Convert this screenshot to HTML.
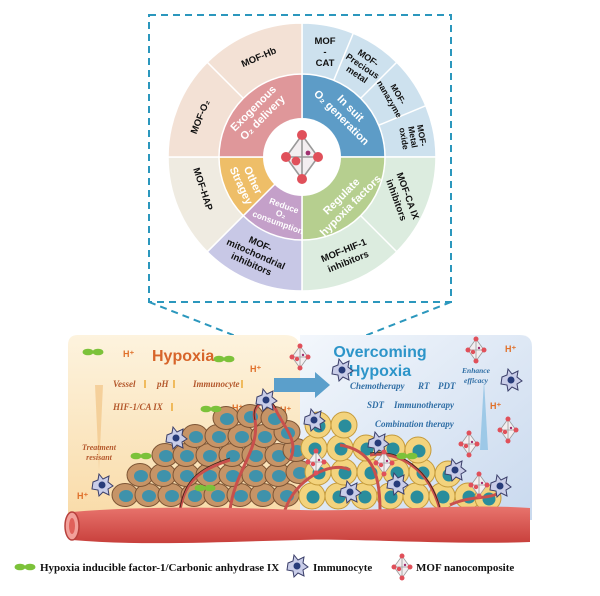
<!DOCTYPE html>
<html><head><meta charset="utf-8"><style>
body{margin:0;background:#fff}
svg{display:block}
.w{font-family:"Liberation Sans",sans-serif;font-weight:bold;fill:#fff;font-size:11px;text-anchor:middle}
.o{font-family:"Liberation Sans",sans-serif;font-weight:bold;fill:#111;font-size:9.5px;text-anchor:middle}
.it{font-family:"Liberation Serif",serif;font-style:italic;font-weight:bold;font-size:9px}
.lg{font-family:"Liberation Serif",serif;font-weight:bold;font-size:11px;fill:#111}
</style></head><body>
<svg width="600" height="596" viewBox="0 0 600 596" xmlns="http://www.w3.org/2000/svg">
<defs>
<linearGradient id="lw" x1="0" y1="0" x2="0" y2="1"><stop offset="0" stop-color="#fdf3de"/><stop offset="1" stop-color="#f9dba8"/></linearGradient>
<linearGradient id="rb" x1="0" y1="0" x2="1" y2="1"><stop offset="0" stop-color="#f3f7fc"/><stop offset="1" stop-color="#c9d9ee"/></linearGradient>
<linearGradient id="ves" x1="0" y1="0" x2="0" y2="1"><stop offset="0" stop-color="#e8746d"/><stop offset="1" stop-color="#c8403c"/></linearGradient>
<g id="cellB"><ellipse rx="13" ry="11.5" fill="#c69467" stroke="#7c5434" stroke-width="1"/><ellipse rx="7" ry="6" fill="#3f92ab" cx="1" cy="1"/></g>
<g id="cellY"><circle r="13" fill="#f3d37d" stroke="#c49a3b" stroke-width="1"/><circle r="6.5" fill="#2a8d9c" cx="1" cy="1"/></g>
<g id="imm"><path d="M-9,-3 L-4,-5 L-3,-11 L1,-6 L7,-9 L6,-3 L11,1 L6,4 L7,10 L1,7 L-3,11 L-4,5 L-10,4 Z" fill="#c9cde8" stroke="#3b3f6a" stroke-width="1"/><circle r="3.5" fill="#283c7a"/></g>
<g id="mof"><path d="M0,-11 L-8,0 L0,11 L8,0 Z M-8,0 L8,0 M0,-11 L0,11" stroke="#999" fill="#f3eef0" stroke-width="0.8"/><circle cy="-11" r="2.5" fill="#e0505a"/><circle cy="11" r="2.5" fill="#e0505a"/><circle cx="-8" r="2.5" fill="#e0505a"/><circle cx="8" r="2.5" fill="#e0505a"/><circle cx="-3" cy="2" r="2.2" fill="#e0505a"/><circle cx="3" cy="-2" r="1.2" fill="#a03070"/></g>
<g id="hif"><ellipse cx="-5" rx="5.5" ry="3.3" fill="#7cc23a"/><ellipse cx="5" rx="5.5" ry="3.3" fill="#7cc23a"/></g>
</defs>

<g stroke="#2b97bd" stroke-width="2" stroke-dasharray="7,5" fill="none">
<path d="M149,15 L451,15 L451,302 L149,302 Z"/>
<path d="M149,302 L284,355 M451,302 L316,355"/>
</g>

<g stroke="#fff" stroke-width="1.5">
<path d="M302,157 L302,23 A134,134 0 0 1 436,157 Z" fill="#cde1ee"/>
<path d="M302,157 L436,157 A134,134 0 0 1 302,291 Z" fill="#dcecdf"/>
<path d="M302,157 L302,291 A134,134 0 0 1 207.2,251.8 Z" fill="#c8c8e6"/>
<path d="M302,157 L207.2,251.8 A134,134 0 0 1 168,157 Z" fill="#efebe1"/>
<path d="M302,157 L168,157 A134,134 0 0 1 302,23 Z" fill="#f3e1d5"/>
<path d="M302,157 L353.3,33.2 M302,157 L396.8,62.2 M302,157 L425.8,105.7 M302,157 L396.8,251.8 M302,157 L207.2,62.2" fill="none"/>
<path d="M302,157 L302,74 A83,83 0 0 1 385,157 Z" fill="#5d9cc7"/>
<path d="M302,157 L385,157 A83,83 0 0 1 302,240 Z" fill="#b6cf8f"/>
<path d="M302,157 L302,240 A83,83 0 0 1 243.3,215.7 Z" fill="#c4a0c9"/>
<path d="M302,157 L243.3,215.7 A83,83 0 0 1 219,157 Z" fill="#eebe68"/>
<path d="M302,157 L219,157 A83,83 0 0 1 302,74 Z" fill="#df979a"/>
</g>
<circle cx="302" cy="157" r="39" fill="#fff"/>
<g transform="translate(302,157) scale(2)"><use href="#mof"/></g>

<text class="w" transform="translate(258,113) rotate(-45)"><tspan x="0" y="-3">Exogenous</tspan><tspan x="0" y="10">O₂ delivery</tspan></text>
<text class="w" transform="translate(346,113) rotate(45)"><tspan x="0" y="-3">In suit</tspan><tspan x="0" y="10">O₂ generation</tspan></text>
<text class="w" transform="translate(346,201) rotate(-45)"><tspan x="0" y="-3">Regulate</tspan><tspan x="0" y="10">hypoxia factors</tspan></text>
<text class="w" style="font-size:8.5px" transform="translate(281,214) rotate(20)"><tspan x="0" y="-6">Reduce</tspan><tspan x="0" y="3">O₂</tspan><tspan x="0" y="12">consumption</tspan></text>
<text class="w" transform="translate(247,183) rotate(65)"><tspan x="0" y="-3">Other</tspan><tspan x="0" y="10">Stragey</tspan></text>

<text class="o" transform="translate(260,60) rotate(-23)">MOF-Hb</text>
<text class="o" transform="translate(203,118) rotate(-68)">MOF-O₂</text>
<text class="o" transform="translate(325,40)"><tspan x="0" y="4">MOF</tspan><tspan x="0" y="15">-</tspan><tspan x="0" y="26">CAT</tspan></text>
<text class="o" style="font-size:9px" transform="translate(362,67) rotate(34)"><tspan x="0" y="-8">MOF-</tspan><tspan x="0" y="2">Precious</tspan><tspan x="0" y="12">metal</tspan></text>
<text class="o" style="font-size:8.5px" transform="translate(393,97) rotate(60)"><tspan x="0" y="-3">MOF-</tspan><tspan x="0" y="7">nanazyme</tspan></text>
<text class="o" style="font-size:8.5px" transform="translate(413,137) rotate(80)"><tspan x="0" y="-6">MOF-</tspan><tspan x="0" y="3">Metal</tspan><tspan x="0" y="12">oxide</tspan></text>
<text class="o" transform="translate(402,198) rotate(70)"><tspan x="0" y="-3">MOF-CA IX</tspan><tspan x="0" y="9">inhibitors</tspan></text>
<text class="o" transform="translate(346,256) rotate(-22)"><tspan x="0" y="-3">MOF-HIF-1</tspan><tspan x="0" y="9">inhibitors</tspan></text>
<text class="o" transform="translate(255,256) rotate(24)"><tspan x="0" y="-10">MOF-</tspan><tspan x="0" y="1">mitochondrial</tspan><tspan x="0" y="12">inhibitors</tspan></text>
<text class="o" transform="translate(200,190) rotate(72)">MOF-HAP</text>

<path d="M78,335 L285,335 Q300,335 300,350 L300,520 L68,520 L68,345 Q68,335 78,335 Z" fill="url(#lw)"/>
<path d="M300,335 L520,335 Q532,335 532,347 L532,520 L300,520 Z" fill="url(#rb)"/>
<path d="M95,385 L99,470 L103,385 Z" fill="#f3c98f" opacity="0.8"/>
<path d="M484,380 L480,450 L488,450 Z" fill="#8ec2e3" opacity="0.8"/>

<text x="152" y="361" font-family="Liberation Sans,sans-serif" font-weight="bold" font-size="16" fill="#d7652a">Hypoxia</text>
<text x="380" y="357" font-family="Liberation Sans,sans-serif" font-weight="bold" font-size="16" fill="#2d95c9" text-anchor="middle">Overcoming</text>
<text x="380" y="376" font-family="Liberation Sans,sans-serif" font-weight="bold" font-size="16" fill="#2d95c9" text-anchor="middle">Hypoxia</text>
<g class="it" fill="#b4582c">
<text x="113" y="387">Vessel</text><text x="157" y="387">pH</text><text x="193" y="387">Immunocyte</text>
<text x="113" y="410">HIF-1/CA IX</text>
<text x="99" y="450" text-anchor="middle" font-size="8">Treatment</text><text x="99" y="460" text-anchor="middle" font-size="8">resisant</text>
</g>
<g stroke="#e9a020" stroke-width="1.3"><path d="M145,388 L145,380 M174,380 L174,388 M242,380 L242,388 M172,411 L172,403"/></g>
<g font-family="Liberation Sans,sans-serif" font-weight="bold" font-size="9" fill="#e0702a">
<text x="123" y="357">H⁺</text><text x="250" y="372">H⁺</text><text x="232" y="411">H⁺</text><text x="280" y="413">H⁺</text><text x="77" y="499">H⁺</text>
<text x="505" y="352">H⁺</text><text x="490" y="409">H⁺</text></g>
<path d="M274,378 L315,378 L315,372 L330,385 L315,398 L315,392 L274,392 Z" fill="#5b9fcb"/>

<g>
<use href="#cellB" x="125" y="495"/><use href="#cellB" x="148" y="495"/><use href="#cellB" x="171" y="495"/><use href="#cellB" x="194" y="495"/><use href="#cellB" x="217" y="495"/><use href="#cellB" x="240" y="495"/><use href="#cellB" x="263" y="495"/><use href="#cellB" x="286" y="495"/>
<use href="#cellB" x="140" y="475"/><use href="#cellB" x="163" y="475"/><use href="#cellB" x="186" y="475"/><use href="#cellB" x="209" y="475"/><use href="#cellB" x="232" y="475"/><use href="#cellB" x="255" y="475"/><use href="#cellB" x="278" y="475"/><use href="#cellB" x="299" y="472"/>
<use href="#cellB" x="165" y="455"/><use href="#cellB" x="186" y="455"/><use href="#cellB" x="209" y="455"/><use href="#cellB" x="232" y="455"/><use href="#cellB" x="255" y="455"/><use href="#cellB" x="278" y="455"/><use href="#cellB" x="296" y="450"/>
<use href="#cellB" x="195" y="436"/><use href="#cellB" x="218" y="436"/><use href="#cellB" x="241" y="436"/><use href="#cellB" x="264" y="436"/><use href="#cellB" x="287" y="432"/>
<use href="#cellB" x="226" y="418"/><use href="#cellB" x="250" y="416"/><use href="#cellB" x="274" y="418"/>
<use href="#cellY" x="312" y="496"/><use href="#cellY" x="338" y="496"/><use href="#cellY" x="364" y="496"/><use href="#cellY" x="390" y="496"/><use href="#cellY" x="416" y="496"/><use href="#cellY" x="442" y="496"/><use href="#cellY" x="468" y="496"/><use href="#cellY" x="488" y="498"/>
<use href="#cellY" x="318" y="472"/><use href="#cellY" x="344" y="472"/><use href="#cellY" x="370" y="472"/><use href="#cellY" x="396" y="472"/><use href="#cellY" x="422" y="472"/><use href="#cellY" x="448" y="474"/>
<use href="#cellY" x="314" y="448"/><use href="#cellY" x="340" y="448"/><use href="#cellY" x="366" y="448"/><use href="#cellY" x="392" y="448"/><use href="#cellY" x="418" y="450"/>
<use href="#cellY" x="318" y="425"/><use href="#cellY" x="344" y="425"/>
</g>
<g fill="none" stroke="#c9504c" stroke-width="3">
<path d="M180,510 C185,480 200,470 230,460 M230,510 C235,470 260,450 255,420 C250,405 268,395 276,410 C282,425 300,440 290,460 M285,510 C295,480 330,460 350,470 M380,510 C380,470 370,450 340,445 M440,510 C430,470 400,450 370,455 M450,505 C470,495 490,500 500,492"/>
</g>
<g fill="none" stroke="#3a2418" stroke-width="0.8">
<path d="M180,508 C185,478 200,468 230,458 M255,420 C250,403 268,393 276,408 M370,453 C400,448 430,470 440,508"/>
</g>

<g class="it" fill="#2f6ea5">
<text x="350" y="389">Chemotherapy</text><text x="418" y="389">RT</text><text x="438" y="389">PDT</text>
<text x="367" y="408">SDT</text><text x="394" y="408">Immunotherapy</text>
<text x="375" y="427">Combination therapy</text>
<text x="476" y="373" text-anchor="middle" font-size="7.5">Enhance</text><text x="476" y="383" text-anchor="middle" font-size="7.5">efficacy</text>
</g>

<path d="M72,512 C150,505 250,508 300,510 C380,512 460,503 530,508 L530,542 C450,545 350,538 300,540 C220,542 140,546 72,540 Z" fill="url(#ves)"/>
<ellipse cx="72" cy="526" rx="7" ry="14" fill="#f2a09a" stroke="#b8403c" stroke-width="1.5"/>
<ellipse cx="72" cy="526" rx="3" ry="8" fill="#e0605a"/>

<use href="#hif" x="93" y="352"/><use href="#hif" x="224" y="359"/><use href="#hif" x="211" y="409"/><use href="#hif" x="141" y="456"/><use href="#hif" x="205" y="488"/><use href="#hif" x="407" y="456"/>
<use href="#imm" x="102" y="485"/><use href="#imm" x="176" y="438"/><use href="#imm" x="266" y="400"/><use href="#imm" x="342" y="370"/><use href="#imm" x="314" y="420"/><use href="#imm" x="378" y="443"/><use href="#imm" x="511" y="380"/><use href="#imm" x="500" y="486"/><use href="#imm" x="455" y="470"/><use href="#imm" x="397" y="484"/><use href="#imm" x="350" y="492"/>
<use href="#mof" x="300" y="357"/><use href="#mof" x="476" y="350"/><use href="#mof" x="508" y="430"/><use href="#mof" x="469" y="444"/><use href="#mof" x="479" y="485"/><use href="#mof" x="316" y="462"/><use href="#mof" x="384" y="463"/>

<use href="#hif" x="25" y="567"/>
<text class="lg" x="40" y="571">Hypoxia inducible factor-1/Carbonic anhydrase IX</text>
<use href="#imm" x="297" y="566"/>
<text class="lg" x="313" y="571">Immunocyte</text>
<use href="#mof" x="402" y="567"/>
<text class="lg" x="416" y="571">MOF nanocomposite</text>
</svg>
</body></html>
